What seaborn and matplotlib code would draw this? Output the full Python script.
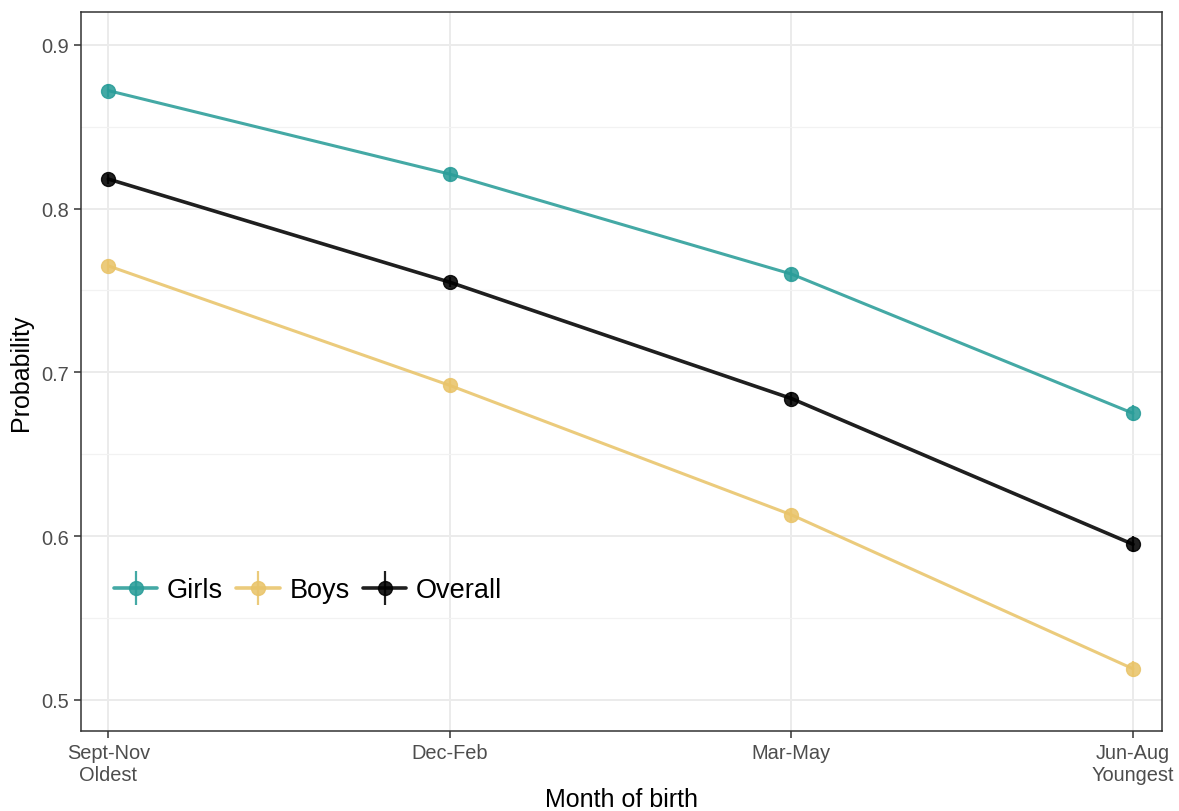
import matplotlib
matplotlib.use("Agg")
import matplotlib.pyplot as plt
import seaborn as sns
import pandas as pd
import numpy as np
from matplotlib.lines import Line2D
from matplotlib.legend_handler import HandlerTuple

categories = ["Sept-Nov\nOldest", "Dec-Feb", "Mar-May", "Jun-Aug\nYoungest"]
girls = [0.872, 0.821, 0.760, 0.675]
boys = [0.765, 0.692, 0.613, 0.519]
overall = [0.818, 0.755, 0.684, 0.595]
girls_err = [0.004, 0.004, 0.004, 0.005]
boys_err = [0.004, 0.004, 0.004, 0.005]
overall_err = [0.003, 0.003, 0.004, 0.005]
groups = ["Girls", "Boys", "Overall"]
colors = {"Girls": "#2A9D99", "Boys": "#E9C46A", "Overall": "#000000"}

sns.set_theme(style="white")
plt.rcParams['font.family'] = ['Liberation Sans', 'DejaVu Sans']

rows = []
for g, vals, errs in zip(groups, [girls, boys, overall], [girls_err, boys_err, overall_err]):
    for i, (v, e) in enumerate(zip(vals, errs)):
        rows.append({"idx": i, "Month": categories[i], "Probability": v, "err": e, "group": g})
df = pd.DataFrame(rows)

fig = plt.figure(figsize=(11.79, 8.12), dpi=100)
ax = fig.add_axes([0.0687, 0.0985, 0.9169, 0.8855])

lw = {"Girls": 2.2, "Boys": 2.2, "Overall": 2.6}
for g in groups:
    sub = df[df.group == g]
    sns.lineplot(data=sub, x="idx", y="Probability", color=colors[g], lw=lw[g],
                 alpha=0.88, ax=ax, legend=False, zorder=3)
    ax.errorbar(sub["idx"], sub["Probability"], yerr=sub["err"], fmt='o',
                color=colors[g], ms=10, elinewidth=1.6, capsize=0, alpha=0.88, zorder=4)

ax.set_xlim(-0.08, 3.085)
ax.set_ylim(0.481, 0.920)
ax.set_xticks(range(len(categories)))
ax.set_xticklabels(categories)
ax.set_yticks([0.5, 0.6, 0.7, 0.8, 0.9])
ax.set_yticklabels(["0.5", "0.6", "0.7", "0.8", "0.9"])
ax.set_yticks([0.55, 0.65, 0.75, 0.85], minor=True)
ax.grid(True, which='major', color='#EBEBEB', lw=1.4, zorder=0)
ax.grid(True, which='minor', axis='y', color='#F2F2F2', lw=0.9, zorder=0)
ax.set_axisbelow(True)
ax.tick_params(axis='both', which='major', labelsize=14.4, labelcolor='#4D4D4D',
               color='#333333', length=5, width=1.1, direction='out', bottom=True, left=True)
ax.tick_params(axis='both', which='minor', length=0)
for s in ax.spines.values():
    s.set_color('#333333')
    s.set_linewidth(1.1)
ax.set_xlabel("Month of birth", fontsize=18, labelpad=2, color='black')
ax.set_ylabel("Probability", fontsize=18, labelpad=6, color='black')

handles = []
for g in groups:
    h1 = Line2D([], [], color=colors[g], lw=2.6, marker='o', ms=10, alpha=0.88)
    h2 = Line2D([], [], color=colors[g], lw=0, marker='|', ms=24, mew=1.6, alpha=0.88)
    handles.append((h1, h2))
leg = ax.legend(handles, groups, handler_map={tuple: HandlerTuple(ndivide=1)},
                loc='center left', bbox_to_anchor=(0.008, 0.196), ncol=3, frameon=False,
                fontsize=19.5, handlelength=1.6, columnspacing=0.5, handletextpad=0.35,
                labelcolor='black')

fig.savefig("out.png", dpi=100)
